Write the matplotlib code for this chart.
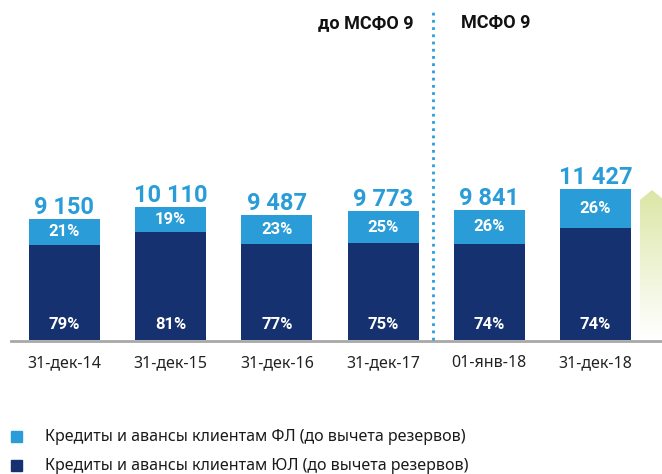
import matplotlib
matplotlib.use("Agg")
import matplotlib.pyplot as plt
import numpy as np
from matplotlib.patches import Rectangle, Polygon
from matplotlib.colors import LinearSegmentedColormap

# ---- data ----
categories = ["31-дек-14", "31-дек-15", "31-дек-16", "31-дек-17", "01-янв-18", "31-дек-18"]
totals = [9150, 10110, 9487, 9773, 9841, 11427]
share_fl = [21, 19, 23, 25, 26, 26]   # retail (ФЛ), %
share_ul = [79, 81, 77, 75, 74, 74]   # corporate (ЮЛ), %
total_labels = ["9 150", "10 110", "9 487", "9 773", "9 841", "11 427"]
series_names = ["Кредиты и авансы клиентам ФЛ (до вычета резервов)",
                "Кредиты и авансы клиентам ЮЛ (до вычета резервов)"]
period_labels = ["до МСФО 9", "МСФО 9"]

LIGHT = "#2a9dd8"
DARK = "#15316f"
W, H = 662, 474
plt.rcParams['font.family'] = ['Noto Sans', 'DejaVu Sans']
BOLDFONT = ['Roboto', 'Open Sans', 'DejaVu Sans']

fig = plt.figure(figsize=(W / 100, H / 100), dpi=100)
base_px = 340
ax = fig.add_axes([0, (H - base_px) / H, 1, base_px / H])
px_per_unit = 0.0132
spacing = 106.2
x0 = 64.5
ax.set_xlim(-x0 / spacing, (W - x0) / spacing)
ax.set_ylim(0, base_px / px_per_unit)

x = np.arange(len(categories))
totals_a = np.array(totals, dtype=float)
ul_vals = totals_a * np.array(share_ul) / 100
fl_vals = totals_a - ul_vals
bw = 71 / spacing
ax.bar(x, ul_vals, width=bw, color=DARK, zorder=3)
ax.bar(x, fl_vals, bottom=ul_vals, width=bw, color=LIGHT, zorder=3)

for i in range(len(x)):
    ax.annotate(total_labels[i], (x[i], totals_a[i]), xytext=(0, 3.6), textcoords='offset points',
                ha='center', va='baseline', fontsize=17, fontweight='bold', color=LIGHT,
                family=BOLDFONT)
    ax.text(x[i], ul_vals[i] + fl_vals[i] / 2, f"{share_fl[i]}%", ha='center', va='center',
            fontsize=12, fontweight='bold', color='white', zorder=4, family=BOLDFONT)
    ax.annotate(f"{share_ul[i]}%", (x[i], 0), xytext=(0, 11), textcoords='offset points',
                ha='center', va='center', fontsize=12, fontweight='bold', color='white', zorder=4,
                family=BOLDFONT)

ax.set_xticks(x)
ax.set_xticklabels(categories, fontsize=11.5, color='#222222')
ax.tick_params(axis='x', length=0, pad=11)
ax.set_yticks([])
for s in ax.spines.values():
    s.set_visible(False)
ax.patch.set_visible(False)

# divider between periods
xdiv = (433 - x0) / spacing
ax.plot([xdiv, xdiv], [0, (base_px - 12) / px_per_unit], linestyle=(0, (1, 1.6)),
        color=LIGHT, lw=2, zorder=2, clip_on=False)

# overlay in pixel coordinates
ov = fig.add_axes([0, 0, 1, 1], zorder=-1)
ov.set_xlim(0, W)
ov.set_ylim(H, 0)
ov.axis('off')

# baseline
ov.plot([11, W], [341, 341], color='#a8a8a8', lw=2)

# period headers
ov.text(413, 23, period_labels[0], ha='right', va='center', fontsize=13, fontweight='bold',
        color='#111111', family=BOLDFONT)
ov.text(461, 23, period_labels[1], ha='left', va='center', fontsize=13, fontweight='bold',
        color='#111111', family=BOLDFONT)

# gradient arrow
arrow = Polygon([(640, 338), (640, 200), (652, 190), (664, 200), (664, 338)], closed=True,
                facecolor='none', edgecolor='none')
ov.add_patch(arrow)
grad = np.linspace(0, 1, 256).reshape(-1, 1)
cmap = LinearSegmentedColormap.from_list('g', ['#dce6a6', '#ffffff'])
im = ov.imshow(grad, extent=[640, 664, 338, 190], cmap=cmap, aspect='auto', origin='upper')
im.set_clip_path(arrow)

# legend
for k, (name, col) in enumerate(zip(series_names, [LIGHT, DARK])):
    yc = 436 + 29.5 * k
    ov.add_patch(Rectangle((11, yc - 5.5), 11, 11, color=col))
    ov.text(45, yc + 1, name, ha='left', va='center', fontsize=11.5, color='#1a1a1a')

fig.savefig("out.png", dpi=100)
